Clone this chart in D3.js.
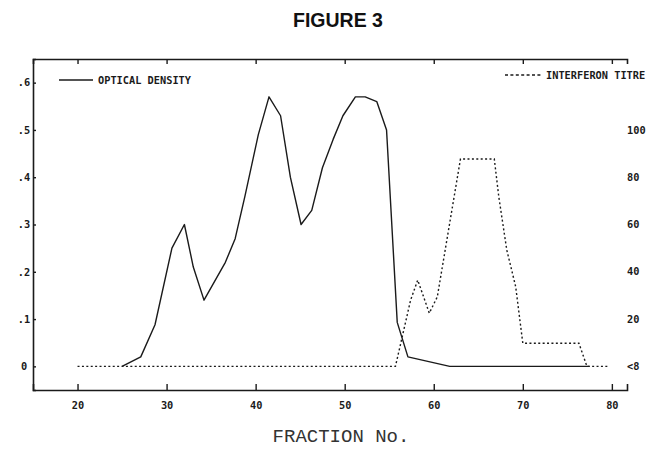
<!DOCTYPE html>
<html>
<head>
<meta charset="utf-8">
<script src="https://cdn.jsdelivr.net/npm/d3@7"></script>
<style>
  body { margin: 0; background: #fff; }
  svg { display: block; }
</style>
</head>
<body>
<svg width="647" height="449"></svg>
<script>
// optical density (solid line)
const odFraction = [25, 27.1, 28.7, 30.6, 32, 33, 34.2, 36.6, 37.7, 38.8, 40.3, 41.5, 42.8, 43.9, 45.1, 46.3, 47.5, 48.7, 49.8, 51.2, 52.3, 53.6, 54.7, 55.9, 57.1, 61.8, 77.5];
const odValue = [0, 0.02, 0.088, 0.25, 0.3, 0.21, 0.14, 0.22, 0.27, 0.36, 0.49, 0.57, 0.53, 0.4, 0.3, 0.33, 0.42, 0.48, 0.53, 0.57, 0.57, 0.56, 0.5, 0.093, 0.02, 0, 0];

// interferon titre (dotted line)
const titreFraction = [20, 55.7, 57.4, 58.2, 59.5, 60.4, 63, 66.8, 67.3, 68.2, 69.2, 70, 76.3, 77.2, 79.6];
const titreValue = [0, 0, 28, 36.5, 22.5, 29.4, 87.7, 87.7, 71.8, 49.2, 33.7, 9.8, 9.8, 0, 0];

const xTicks = [20, 30, 40, 50, 60, 70, 80];
const odTicks = [0, 0.1, 0.2, 0.3, 0.4, 0.5, 0.6];
const odTickLabels = ["0", ".1", ".2", ".3", ".4", ".5", ".6"];
const titreTicks = [0, 20, 40, 60, 80, 100];
const titreTickLabels = ["<8", "20", "40", "60", "80", "100"];

const svg = d3.select("svg");
const ink = "#1a1a1a";
const dotFont = "'DejaVu Sans Mono', monospace";

const x = d3.scaleLinear().domain([15, 81.7]).range([33, 627]);
const y = d3.scaleLinear().domain([-0.05, 0.65]).range([390, 59]);
// titre axis sits on the right, 20 units per 0.1 OD
const yT = d3.scaleLinear().domain([-10, 130]).range([390, 59]);

// title
svg.append("text")
  .attr("x", 338).attr("y", 27)
  .attr("text-anchor", "middle")
  .style("font-family", "'Liberation Sans', Arial, sans-serif")
  .style("font-weight", "bold")
  .style("font-size", "19.5px")
  .attr("fill", "#111")
  .text("FIGURE 3");

// bottom axis, ticks pointing up
const xAxis = d3.axisBottom(x).tickValues(xTicks).tickSize(-6).tickPadding(12).tickFormat(d3.format("d"));
const gx = svg.append("g").attr("transform", "translate(0,390)").call(xAxis);

// top axis, no labels
const topAxis = d3.axisTop(x).tickValues(xTicks).tickSize(-5).tickFormat("");
const gt = svg.append("g").attr("transform", "translate(0,59)").call(topAxis);

// left axis
const yAxis = d3.axisLeft(y).tickValues(odTicks).tickSize(-3).tickPadding(0)
  .tickFormat((d, i) => odTickLabels[i]);
const gy = svg.append("g").attr("transform", "translate(33,0)").call(yAxis);

[gx, gt, gy].forEach(g => {
  g.select(".domain").attr("stroke", ink).attr("stroke-width", 1.6);
  g.selectAll(".tick line").attr("stroke", ink).attr("stroke-width", 1.4);
  g.selectAll("text")
    .attr("fill", ink)
    .style("font-family", dotFont)
    .style("font-weight", "bold")
    .style("font-size", "10.3px");
});
gy.selectAll(".tick text").attr("x", -9).attr("text-anchor", "middle");

// right titre labels (no axis line in the original)
svg.append("g")
  .selectAll("text")
  .data(titreTicks)
  .join("text")
  .attr("x", 627)
  .attr("y", d => yT(d))
  .attr("dy", "0.35em")
  .attr("fill", ink)
  .style("font-family", dotFont)
  .style("font-weight", "bold")
  .style("font-size", "10.3px")
  .text((d, i) => titreTickLabels[i]);

// lines
const odData = odFraction.map((f, i) => ({ f, v: odValue[i] }));
const titreData = titreFraction.map((f, i) => ({ f, v: titreValue[i] }));

svg.append("path")
  .datum(titreData)
  .attr("fill", "none")
  .attr("stroke", ink)
  .attr("stroke-width", 1.4)
  .attr("stroke-dasharray", "2,2.4")
  .attr("d", d3.line().x(d => x(d.f)).y(d => yT(d.v)));

svg.append("path")
  .datum(odData)
  .attr("fill", "none")
  .attr("stroke", ink)
  .attr("stroke-width", 1.4)
  .attr("stroke-linejoin", "round")
  .attr("d", d3.line().x(d => x(d.f)).y(d => y(d.v)));

// legends
svg.append("line")
  .attr("x1", 59).attr("x2", 93).attr("y1", 80).attr("y2", 80)
  .attr("stroke", ink).attr("stroke-width", 1.3);
svg.append("text")
  .attr("x", 98).attr("y", 84)
  .attr("fill", ink)
  .style("font-family", dotFont).style("font-weight", "bold").style("font-size", "10.3px")
  .text("OPTICAL DENSITY");

svg.append("line")
  .attr("x1", 505).attr("x2", 542).attr("y1", 75).attr("y2", 75)
  .attr("stroke", ink).attr("stroke-width", 1.3)
  .attr("stroke-dasharray", "3,2.4");
svg.append("text")
  .attr("x", 546).attr("y", 79)
  .attr("fill", ink)
  .style("font-family", dotFont).style("font-weight", "bold").style("font-size", "10.3px")
  .text("INTERFERON TITRE");

// x axis title
svg.append("text")
  .attr("x", 341).attr("y", 442)
  .attr("text-anchor", "middle")
  .attr("fill", "#333")
  .style("font-family", "'Liberation Mono', monospace")
  .style("font-size", "19px")
  .text("FRACTION No.");
</script>
</body>
</html>
